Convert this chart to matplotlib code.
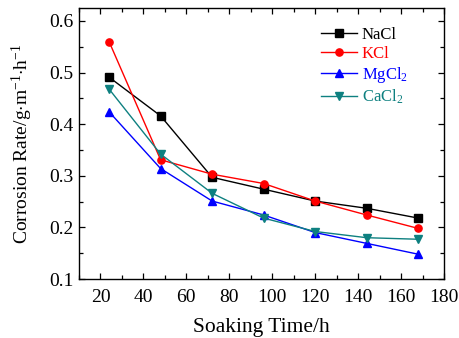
import matplotlib
matplotlib.use("Agg")
import matplotlib.pyplot as plt
from matplotlib.ticker import MultipleLocator

time_h = [24, 48, 72, 96, 120, 144, 168]
nacl = [0.491, 0.416, 0.297, 0.274, 0.251, 0.237, 0.218]
kcl = [0.560, 0.331, 0.303, 0.285, 0.251, 0.224, 0.198]
mgcl2 = [0.424, 0.314, 0.251, 0.224, 0.190, 0.169, 0.148]
cacl2 = [0.468, 0.342, 0.266, 0.218, 0.192, 0.180, 0.177]

plt.rcParams['font.family'] = ['Liberation Serif', 'DejaVu Serif']
plt.rcParams['mathtext.fontset'] = 'custom'
plt.rcParams['mathtext.rm'] = 'Liberation Serif'
plt.rcParams['mathtext.it'] = 'Liberation Serif'

W, H = 460, 338
fig = plt.figure(figsize=(4.6, 3.38), dpi=100)
ax = fig.add_axes([79/W, 1-279/H, (444-79)/W, (279-8)/H])

series = [
    (nacl, 'NaCl', 'black', 's'),
    (kcl, 'KCl', 'red', 'o'),
    (mgcl2, 'MgCl$_\\mathregular{2}$', 'blue', '^'),
    (cacl2, 'CaCl$_\\mathregular{2}$', '#0e8080', 'v'),
]
for vals, lab, col, mk in series:
    ax.plot(time_h, vals, color=col, marker=mk, markersize=5.2, linewidth=1.0, label=lab)

ax.set_xlim(10, 180)
ax.set_ylim(0.1, 0.625)
ax.xaxis.set_major_locator(MultipleLocator(20))
ax.xaxis.set_minor_locator(MultipleLocator(10))
ax.yaxis.set_major_locator(MultipleLocator(0.1))
ax.yaxis.set_minor_locator(MultipleLocator(0.05))
ax.tick_params(which='both', direction='in', top=True, right=True, labelsize=14)
ax.tick_params(which='major', length=4.5, width=0.9)
ax.tick_params(which='minor', length=2.8, width=0.9)
ax.tick_params(axis='x', which='major', pad=7)
ax.tick_params(axis='y', which='major', pad=4)
for s in ax.spines.values():
    s.set_linewidth(1.0)
ax.set_xticks([20, 40, 60, 80, 100, 120, 140, 160, 180])
ax.set_xticklabels(['20', '40', '60', '80', '100', '120', '140', '160', '180'])
ax.set_yticks([0.1, 0.2, 0.3, 0.4, 0.5, 0.6])
ax.set_yticklabels(['0.1', '0.2', '0.3', '0.4', '0.5', '0.6'])

ax.set_xlabel('Soaking Time/h', fontsize=15.5, labelpad=9)
ax.set_ylabel('Corrosion Rate/g$\\cdot$m$^{\\mathregular{-1}}$$\\cdot$h$^{\\mathregular{-1}}$',
              fontsize=14, labelpad=10)

leg = ax.legend(loc='upper left', frameon=False, fontsize=12, handlelength=2.15,
                handletextpad=0.3, borderpad=0, borderaxespad=0,
                bbox_to_anchor=(321/W, 1-27/H), bbox_transform=fig.transFigure,
                labelspacing=0.18)
for txt, (_, _, col, _) in zip(leg.get_texts(), series):
    txt.set_color(col)

fig.savefig('out.png', dpi=100)
